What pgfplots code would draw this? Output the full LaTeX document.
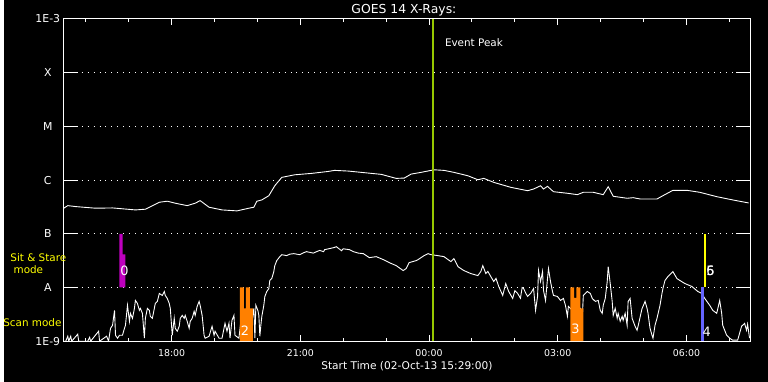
\documentclass[border=0pt]{standalone}
\usepackage{fontspec}
\setmainfont{DejaVu Sans}
\usepackage{pgfplots}
\pgfplotsset{compat=1.18}
\definecolor{evgreen}{RGB}{150,200,0}
\definecolor{ssmag}{RGB}{190,0,190}
\definecolor{scorange}{RGB}{255,128,0}
\definecolor{scblue}{RGB}{100,100,255}
\definecolor{ssyellow}{RGB}{255,255,0}
\pgfplotstableread{
h L
-8.538 -6.537
-8.422 -6.476
-8.237 -6.494
-7.773 -6.524
-7.378 -6.519
-6.845 -6.556
-6.613 -6.543
-6.288 -6.413
-6.102 -6.394
-5.916 -6.431
-5.638 -6.476
-5.452 -6.431
-5.336 -6.383
-5.128 -6.506
-4.826 -6.556
-4.478 -6.574
-4.200 -6.524
-4.084 -6.506
-4.014 -6.394
-3.898 -6.370
-3.735 -6.291
-3.596 -6.106
-3.434 -5.950
-3.132 -5.902
-2.738 -5.876
-2.343 -5.839
-2.204 -5.820
-1.879 -5.833
-1.578 -5.857
-1.114 -5.894
-0.766 -5.969
-0.580 -5.963
-0.418 -5.889
-0.186 -5.857
0.116 -5.809
0.348 -5.820
0.580 -5.857
0.905 -5.920
1.137 -5.994
1.276 -5.969
1.508 -6.043
1.903 -6.135
2.297 -6.198
2.436 -6.167
2.599 -6.106
2.668 -6.167
2.761 -6.117
2.900 -6.217
3.225 -6.246
3.457 -6.272
3.596 -6.228
3.828 -6.228
4.060 -6.272
4.176 -6.124
4.292 -6.302
4.617 -6.339
4.756 -6.328
4.919 -6.352
5.313 -6.352
5.452 -6.291
5.684 -6.191
6.009 -6.191
6.311 -6.228
6.705 -6.309
7.077 -6.370
7.448 -6.426
}\longch
\pgfplotstableread{
h L
-8.538 -9
-8.469 -9
-8.422 -8.907
-8.399 -9
-8.353 -8.907
-8.330 -9
-8.190 -8.870
-8.167 -9
-7.958 -9
-7.912 -8.926
-7.889 -9
-7.703 -8.815
-7.680 -9
-7.517 -8.907
-7.471 -9
-7.425 -8.759
-7.378 -8.704
-7.332 -8.426
-7.309 -8.889
-7.262 -8.944
-7.216 -8.889
-7.146 -8.889
-7.100 -8.759
-7.077 -8.704
-7.030 -8.333
-6.984 -8.630
-6.961 -8.481
-6.914 -8.574
-6.868 -8.389
-6.845 -8.241
-6.798 -8.296
-6.752 -8.426
-6.729 -8.389
-6.682 -8.481
-6.636 -8.944
-6.613 -8.574
-6.566 -8.389
-6.520 -8.426
-6.497 -8.537
-6.450 -8.574
-6.381 -8.296
-6.334 -8.259
-6.288 -8.111
-6.218 -8.148
-6.172 -8.074
-6.148 -8.148
-6.102 -8.204
-6.056 -8.296
-6.032 -8.389
-5.986 -8.889
-5.940 -8.574
-5.916 -8.759
-5.870 -8.815
-5.824 -8.722
-5.800 -8.574
-5.754 -8.519
-5.708 -8.574
-5.684 -8.519
-5.638 -8.630
-5.592 -8.759
-5.568 -8.630
-5.522 -8.574
-5.476 -8.444
-5.452 -8.519
-5.406 -8.352
-5.360 -8.259
-5.336 -8.333
-5.290 -8.519
-5.244 -8.889
-5.220 -8.944
-5.128 -8.907
-5.058 -8.722
-5.012 -8.889
-4.988 -8.815
-4.896 -8.944
-4.826 -8.944
-4.756 -8.667
-4.710 -8.815
-4.664 -8.667
-4.640 -8.944
-4.594 -8.611
-4.548 -8.519
-4.524 -8.889
-4.432 -8.944
-4.385 -8.611
-4.269 -8.537
-4.153 -8.722
-4.084 -8.389
-4.060 -8.944
-4.037 -8.333
-3.991 -8.426
-3.968 -8.519
-3.944 -8.907
-3.921 -8.704
-3.898 -8.537
-3.852 -8.333
-3.828 -8.167
-3.782 -8.074
-3.735 -8.019
-3.712 -7.870
-3.666 -7.833
-3.619 -7.704
-3.596 -7.593
-3.550 -7.500
-3.480 -7.426
-3.434 -7.389
-3.318 -7.407
-3.250 -7.380
-3.155 -7.370
-3.016 -7.389
-2.923 -7.352
-2.854 -7.333
-2.700 -7.360
-2.622 -7.333
-2.550 -7.310
-2.459 -7.333
-2.436 -7.296
-2.227 -7.259
-2.158 -7.241
-2.042 -7.315
-2.000 -7.280
-1.856 -7.296
-1.763 -7.333
-1.650 -7.360
-1.531 -7.370
-1.392 -7.444
-1.230 -7.426
-1.067 -7.481
-0.928 -7.537
-0.766 -7.593
-0.603 -7.685
-0.534 -7.648
-0.464 -7.537
-0.302 -7.500
-0.255 -7.481
-0.116 -7.407
-0.023 -7.370
0.046 -7.389
0.209 -7.407
0.348 -7.426
0.510 -7.519
0.580 -7.463
0.673 -7.611
0.812 -7.685
0.974 -7.741
1.137 -7.778
1.206 -7.704
1.253 -7.593
1.323 -7.741
1.370 -7.700
1.439 -7.796
1.508 -7.889
1.560 -7.830
1.624 -7.981
1.717 -8.148
1.787 -7.926
1.856 -8.074
1.949 -8.204
2.000 -8.060
2.065 -8.111
2.130 -8.200
2.170 -8.000
2.204 -8.019
2.250 -8.100
2.297 -8.167
2.367 -8.111
2.436 -8.019
2.483 -8.426
2.529 -8.167
2.552 -7.685
2.599 -7.889
2.645 -7.704
2.668 -8.056
2.715 -8.241
2.761 -7.833
2.784 -7.648
2.831 -7.889
2.877 -8.074
2.900 -8.148
2.993 -8.167
3.063 -8.241
3.132 -8.204
3.179 -8.333
3.225 -8.537
3.248 -8.352
3.341 -8.426
3.411 -8.296
3.457 -8.444
3.527 -8.389
3.573 -8.537
3.596 -8.148
3.689 -8.074
3.759 -8.111
3.805 -8.204
3.875 -8.259
3.944 -8.241
3.991 -8.426
4.037 -8.481
4.060 -8.333
4.107 -8.204
4.153 -7.889
4.176 -7.611
4.223 -7.926
4.269 -8.259
4.292 -8.519
4.339 -8.389
4.385 -8.574
4.408 -8.481
4.455 -8.630
4.501 -8.537
4.524 -8.611
4.571 -8.481
4.617 -8.704
4.640 -8.259
4.687 -8.204
4.733 -8.574
4.803 -8.722
4.849 -8.796
4.872 -8.722
4.965 -8.389
4.988 -8.352
5.035 -8.259
5.081 -8.389
5.104 -8.481
5.151 -8.759
5.197 -8.889
5.220 -8.944
5.267 -8.704
5.313 -8.574
5.383 -8.333
5.429 -8.111
5.452 -8.019
5.499 -7.870
5.568 -7.796
5.684 -7.704
5.777 -7.833
5.847 -7.870
5.963 -7.926
6.125 -7.981
6.265 -8.074
6.357 -8.111
6.427 -8.204
6.543 -8.333
6.613 -8.426
6.705 -8.481
6.775 -8.241
6.821 -8.481
6.845 -8.704
6.937 -8.889
7.007 -8.944
7.077 -8.981
7.193 -8.981
7.285 -8.722
7.355 -8.667
7.401 -8.796
7.425 -8.685
7.471 -8.944
}\shortch
\begin{document}
\begin{tikzpicture}
\fill[black] (0bp,0bp) rectangle (768bp,384bp);
\begin{axis}[
  at={(60bp,41bp)}, anchor=south west,
  width=690bp, height=324bp, scale only axis,
  xmin=-8.5167, xmax=7.4833, ymin=-9, ymax=-3,
  axis line style={white, line width=1bp},
  tick align=inside, tick pos=both,
  xtick={-6,-3,0,3,6},
  xticklabels={18:00,21:00,00:00,03:00,06:00},
  minor xtick={-8,-7,-5,-4,-2,-1,1,2,4,5,7},
  ytick={-9,-8,-7,-6,-5,-4,-3},
  yticklabels={1E-9,A,B,C,M,X,1E-3},
  xtick style={/pgfplots/major tick length=6.5bp, /pgfplots/minor tick length=3.5bp, white, line width=1bp},
  ytick style={/pgfplots/major tick length=14bp, white, line width=1bp},
  ymajorgrids,
  grid style={white, dash pattern=on 1bp off 5bp, line width=1bp},
  xticklabel style={white, anchor=center, yshift=-12bp, font=\fontsize{9.5}{11}\selectfont},
  yticklabel style={white, anchor=center, xshift=-16bp, font=\fontsize{11}{13}\selectfont},
]
\addplot[white, line width=0.9bp] table[x=h, y=L] {\longch};
\addplot[white, line width=0.9bp] table[x=h, y=L] {\shortch};
% Sit & Stare bar 0
\addplot[fill=ssmag, draw=none] coordinates {(-7.216,-8) (-7.216,-7) (-7.146,-7) (-7.146,-7.383) (-7.077,-7.383) (-7.077,-8)} --cycle;
% scan bar 2
\addplot[fill=scorange, draw=none] coordinates {(-4.408,-9) (-4.408,-8) (-4.316,-8) (-4.316,-8.389) (-4.269,-8.389) (-4.269,-8) (-4.176,-8) (-4.176,-8.389) (-4.107,-8.389) (-4.107,-9)} --cycle;
% scan bar 3
\addplot[fill=scorange, draw=none] coordinates {(3.295,-9) (3.295,-8) (3.381,-8) (3.381,-8.191) (3.434,-8.191) (3.434,-8) (3.527,-8) (3.527,-8.389) (3.596,-8.389) (3.596,-9)} --cycle;
% scan bar 4
\addplot[fill=scblue, draw=none] coordinates {(6.334,-9) (6.334,-8) (6.404,-8) (6.404,-9)} --cycle;
% sit & stare 6
\addplot[ssyellow, line width=2bp] coordinates {(6.427,-8) (6.427,-7)};
% event peak
\addplot[evgreen, line width=2.5bp] coordinates {(0.086,-9) (0.086,-3)};
\node[white, font=\fontsize{13}{15}\selectfont] at (axis cs:-7.10,-7.685) {0};
\node[white, font=\fontsize{13}{15}\selectfont] at (axis cs:-4.29,-8.80) {2};
\node[white, font=\fontsize{13}{15}\selectfont] at (axis cs:3.41,-8.77) {3};
\node[white, font=\fontsize{13}{15}\selectfont] at (axis cs:6.47,-8.83) {4};
\node[white, font=\fontsize{13}{15}\selectfont] at (axis cs:6.56,-7.685) {5};
\node[white, font=\fontsize{13}{15}\selectfont] at (axis cs:6.56,-7.685) {6};
\node[white, anchor=west, font=\fontsize{10.5}{12}\selectfont] at (axis cs:0.29,-3.444) {Event Peak};
\end{axis}
\node[white, font=\fontsize{12.5}{14}\selectfont] at (402bp,374bp) {GOES 14 X-Rays:};
\node[white, font=\fontsize{10.7}{12}\selectfont] at (405bp,16bp) {Start Time (02-Oct-13 15:29:00)};
\node[ssyellow, font=\fontsize{10.5}{12}\selectfont] at (34.5bp,125bp) {Sit \& Stare};
\node[ssyellow, font=\fontsize{10.5}{12}\selectfont] at (24.5bp,113bp) {mode};
\node[ssyellow, font=\fontsize{10.5}{12}\selectfont] at (28.5bp,60bp) {Scan mode};
\end{tikzpicture}
\end{document}
